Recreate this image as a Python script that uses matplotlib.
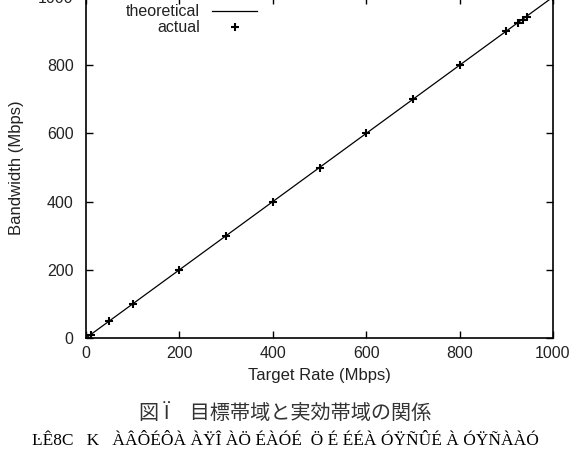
import matplotlib
matplotlib.use('Agg')
from matplotlib import pyplot as plt
from matplotlib.lines import Line2D

# target rate vs measured bandwidth (Mbps)
target_rate = [0, 10, 50, 100, 200, 300, 400, 500, 600, 700, 800, 900, 925, 935, 945, 1000]
actual_bw = [0, 10, 50, 100, 200, 300, 400, 500, 600, 700, 800, 900, 925, 933, 940, 1000]
theory_x = [0, 1000]
theory_y = [0, 1000]

ticks = [0, 200, 400, 600, 800, 1000]
legend_labels = ['theoretical', 'actual']

caption_jp = '図 Ï\u3000目標帯域と実効帯域の関係'
caption_en = 'ĿÊ8C   K   ÀÂÔÉÔÀ ÀŸÎ ÀÖ ÉÀÓÉ  Ö É ÉÉÀ ÓŸÑÛÉ À ÓŸÑÀÀÓ'

plt.rcParams['font.family'] = ['Liberation Sans', 'DejaVu Sans']

fig = plt.figure(figsize=(5.7, 4.53), dpi=100)
ax = fig.add_axes([86 / 570, 115 / 453, 467 / 570, 341 / 453])

ax.plot(theory_x, theory_y, color='black', lw=0.9)
ax.plot(target_rate, actual_bw, linestyle='none', marker='+', color='black',
        ms=6, mew=1.5)

ax.set_xlim(0, 1000)
ax.set_ylim(0, 1000)
ax.set_xticks(ticks)
ax.set_yticks(ticks)
ax.tick_params(direction='in', top=True, right=True, length=5, width=1,
               labelsize=11.5, colors='black')
ax.tick_params(axis='x', pad=6)
ax.tick_params(axis='y', pad=9)
ax.tick_params(labelcolor='#222222')
for s in ax.spines.values():
    s.set_linewidth(1.2)

ax.set_xlabel('Target Rate (Mbps)', fontsize=12, labelpad=5, color='#222222')
ax.set_ylabel('Bandwidth (Mbps)', fontsize=12, labelpad=10, color='#222222')

# gnuplot-style key: right-aligned labels, sample on the right
key_y = [442 / 453, 426 / 453]
fig.text(200 / 570, key_y[0], legend_labels[0], ha='right', va='center',
         fontsize=11.5, color='#222222')
fig.text(200 / 570, key_y[1], legend_labels[1], ha='right', va='center',
         fontsize=11.5, color='#222222')
fig.add_artist(Line2D([212 / 570, 257 / 570], [key_y[0], key_y[0]],
                      transform=fig.transFigure, color='black', lw=0.9))
fig.add_artist(Line2D([235 / 570], [key_y[1]], transform=fig.transFigure,
                      color='black', marker='+', ms=6, mew=1.5, linestyle='none'))

fig.text(0.5, 40 / 453, caption_jp, ha='center', va='center', fontsize=14.5,
         family=['Noto Sans CJK JP', 'DejaVu Sans'], color='#333333')
fig.text(0.5, 12 / 453, caption_en, ha='center', va='center', fontsize=12.5,
         family=['Liberation Serif', 'DejaVu Serif'])

fig.savefig('out.png', dpi=100)
